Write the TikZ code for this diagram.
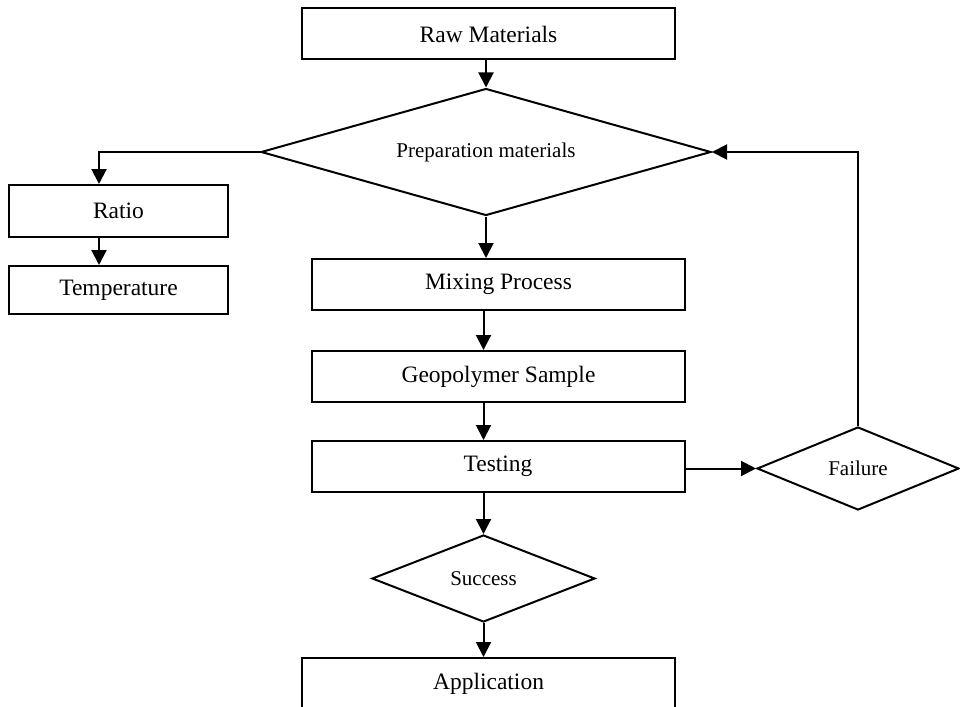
\documentclass[tikz,border=0pt]{standalone}
\usepackage{fontspec}
\setmainfont{Liberation Serif}
\usetikzlibrary{arrows.meta}
\usetikzlibrary{shapes.geometric}

\tikzset{
    box/.style={draw, line width=2pt, inner sep=0pt, minimum width=373pt, minimum height=51pt, font=\fontsize{23.5}{28}\selectfont},
    smallbox/.style={box, minimum width=219pt},
    decision/.style={draw, diamond, line width=2pt, inner sep=0pt, font=\fontsize{21}{25}\selectfont},
    arr/.style={line width=2pt, -{Triangle[length=15pt,width=15pt]}}
}

\begin{document}
\begin{tikzpicture}[x=1pt,y=-1pt]
    \useasboundingbox (0,0) rectangle (960,706);
    % boxes and decisions
    \node[box] (raw) at (488.5,34) {Raw Materials};
    \node[decision, aspect=3.5, minimum width=450pt, minimum height=127pt] (prep) at (486,152) {Preparation materials};
    \node[smallbox, minimum height=52pt] (ratio) at (118.5,211) {Ratio};
    \node[smallbox, minimum height=48pt] (temp) at (118.5,290) {Temperature};
    \node[box] (mix) at (498.5,284.5) {Mixing Process};
    \node[box] (geo) at (498.5,376.5) {Geopolymer Sample};
    \node[box] (test) at (498,466.5) {Testing};
    \node[decision, aspect=2.4, minimum width=202pt, minimum height=83pt] (fail) at (858,468.5) {Failure};
    \node[decision, aspect=2.5, minimum width=223pt, minimum height=87pt] (succ) at (483.5,578.5) {Success};
    \node[box, minimum height=52pt] (app) at (488.5,684) {Application};
    % connectors
    \draw[arr] (raw.south -| prep.north) -- (prep.north);
    \draw[arr] (prep.west) -| ([xshift=-19.5pt]ratio.north);
    \draw[arr] ([xshift=-19.5pt]ratio.south) -- ([xshift=-19.5pt]temp.north);
    \draw[arr] (prep.south) -- (prep.south |- mix.north);
    \draw[arr] (mix.south -| succ.north) -- (geo.north -| succ.north);
    \draw[arr] (geo.south -| succ.north) -- (test.north -| succ.north);
    \draw[arr] (test.south -| succ.north) -- (succ.north);
    \draw[arr] (succ.south) -- (succ.south |- app.north);
    \draw[arr] (test.east |- fail.west) -- (fail.west);
    \draw[arr] (fail.north) |- (prep.east);
\end{tikzpicture}
\end{document}
